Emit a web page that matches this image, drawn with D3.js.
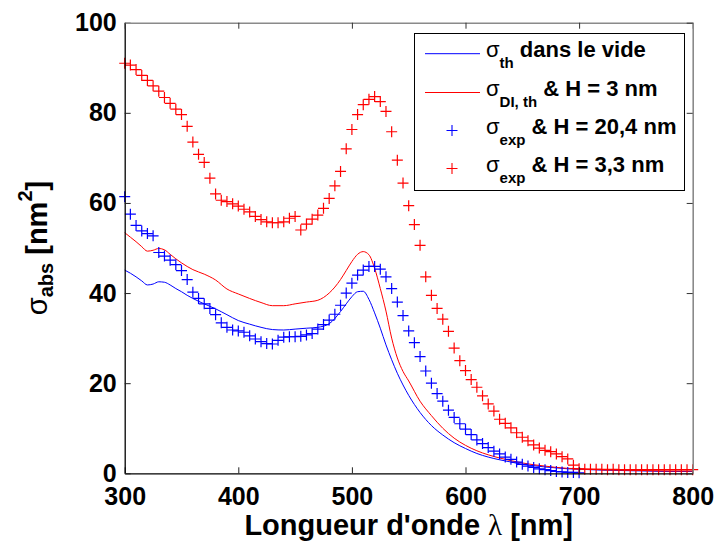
<!DOCTYPE html>
<html>
<head>
<meta charset="utf-8">
<script src="https://cdn.jsdelivr.net/npm/d3@7"></script>
<style>
  html, body { margin: 0; padding: 0; background: #fff; }
  svg { display: block; }
  text { font-family: "Liberation Sans", Arial, sans-serif; }
</style>
</head>
<body>
<svg id="chart" width="720" height="542"></svg>
<script>
// ---------------- data ----------------
const xTicks = [300, 400, 500, 600, 700, 800];
const yTicks = [0, 20, 40, 60, 80, 100];

// theoretical curves (wavelength in nm)
const lineLambda = [300,305,310,315,320,325,330,335,340,345,350,355,360,370,380,390,400,410,420,430,440,450,460,470,480,490,495,500,505,510,515,520,525,530,535,540,545,550,560,570,580,590,600,610,620,630,640,650,660,670,680,690,700,720,740,760,780,800];
const sigmaThVide = [45.1,44.4,43.6,42.7,41.8,42.0,42.5,42.4,41.8,41.0,40.3,39.5,38.8,37.6,36.5,35.2,33.9,33.1,32.4,31.9,31.8,32.0,32.2,32.4,33.2,35.9,37.6,39.2,40.3,40.4,38.6,35.6,32.2,28.5,25.2,22.2,19.6,17.3,13.5,10.6,8.5,6.8,5.5,4.4,3.6,3.0,2.5,2.0,1.7,1.4,1.2,1.0,0.9,0.7,0.6,0.5,0.4,0.4];
const sigmaDIth = [53.4,52.4,51.4,50.3,49.3,49.5,49.9,49.6,48.6,47.6,46.7,45.9,45.2,44.2,42.9,40.9,39.8,38.8,37.9,37.2,37.2,37.6,38.0,38.4,40.0,43.0,45.0,47.0,48.6,49.2,48.5,45.5,41.0,36.0,30.0,25.6,22.6,20.5,16.0,12.8,10.0,7.8,6.2,5.0,4.1,3.4,2.8,2.3,1.9,1.6,1.3,1.1,1.0,0.8,0.7,0.6,0.5,0.5];

// experimental, H = 20,4 nm
const expBlueLambda = [300,305,310,315,320,325,330,335,340,345,350,355,360,365,370,375,380,385,390,395,400,405,410,415,420,425,430,435,440,445,450,455,460,465,470,475,480,485,490,495,500,505,510,515,520,525,530,535,540,545,550,555,560,565,570,575,580,585,590,595,600,605,610,615,620,625,630,635,640,645,650,655,660,665,670,675,680,685,690,695,700];
const sigmaExpBlue = [61.4,57.5,55.0,53.8,53.2,52.7,49.0,48.2,47.3,46.3,45.0,43.0,40.2,38.8,37.6,36.6,35.2,33.4,32.4,31.8,31.6,31.3,30.5,29.8,29.2,28.8,28.7,29.5,30.2,30.3,30.3,30.4,30.7,31.0,32.0,33.0,34.0,35.3,37.3,40.0,42.2,44.0,45.1,45.9,45.9,45.3,43.6,41.0,38.0,35.0,31.6,29.0,25.9,22.7,20.0,17.7,16.0,14.0,12.4,11.0,9.8,8.6,7.4,6.6,5.7,4.9,4.3,3.6,3.1,2.5,2.0,1.6,1.3,1.0,0.8,0.6,0.4,0.3,0.2,0.2,0.1];

// experimental, H = 3,3 nm
const expRedLambda = [300,305,310,315,320,325,330,335,340,345,350,355,360,365,370,375,380,385,390,395,400,405,410,415,420,425,430,435,440,445,450,455,460,465,470,475,480,485,490,495,500,505,510,515,520,525,530,535,540,545,550,555,560,565,570,575,580,585,590,595,600,605,610,615,620,625,630,635,640,645,650,655,660,665,670,675,680,685,690,695,700,705,710,715,720,725,730,735,740,745,750,755,760,765,770,775,780,785,790,795,800];
const sigmaExpRed = [91.0,90.6,89.6,88.3,87.2,86.0,84.8,83.4,82.1,80.8,79.6,77.0,73.5,70.8,69.0,65.5,62.0,60.6,60.3,59.8,59.3,58.6,58.0,57.0,56.3,55.8,55.6,55.6,55.8,56.6,57.0,54.0,55.3,56.4,57.3,58.8,61.0,63.8,67.0,72.0,76.3,79.6,81.8,83.0,83.6,82.5,80.3,75.8,69.5,64.4,59.4,55.2,50.6,43.6,39.5,36.6,34.2,31.5,27.8,25.0,22.8,20.8,19.1,17.2,15.4,13.8,12.0,11.1,10.1,9.0,8.0,7.2,6.3,5.6,5.1,4.8,4.3,3.7,3.2,1.8,1.0,0.9,0.9,0.9,0.9,0.8,0.9,0.8,0.8,0.8,0.8,0.8,0.8,0.8,0.8,0.8,0.8,0.8,0.8,0.8,0.8];

const legendEntries = [
  { main: "σ", sub: "th", rest: " dans le vide", color: "#0000ff", kind: "line" },
  { main: "σ", sub: "DI, th", rest: " & H = 3 nm", color: "#ff0000", kind: "line" },
  { main: "σ", sub: "exp", rest: " & H = 20,4 nm", color: "#0000ff", kind: "plus" },
  { main: "σ", sub: "exp", rest: " & H = 3,3 nm", color: "#ff0000", kind: "plus" }
];

// ---------------- layout ----------------
const W = 720, H = 542;
const margin = { left: 124.7, top: 22.7, right: 27.3, bottom: 68.7 };
const svg = d3.select("#chart");

const x = d3.scaleLinear().domain([300, 800]).range([margin.left, W - margin.right]);
const y = d3.scaleLinear().domain([0, 100]).range([H - margin.bottom, margin.top]);

const FONT = '"Liberation Sans", Arial, sans-serif';

// ---------------- data marks ----------------
const plot = svg.append("g");

const line = d3.line().x(d => x(d[0])).y(d => y(d[1])).curve(d3.curveMonotoneX);

plot.append("path")
  .datum(lineLambda.map((l, i) => [l, sigmaThVide[i]]))
  .attr("d", line).attr("fill", "none").attr("stroke", "#0000ff").attr("stroke-width", 1);

plot.append("path")
  .datum(lineLambda.map((l, i) => [l, sigmaDIth[i]]))
  .attr("d", line).attr("fill", "none").attr("stroke", "#ff0000").attr("stroke-width", 1);

const plusPath = s => `M${-s},0H${s}M0,${-s}V${s}`;

function drawPlus(g, lambdas, values, color) {
  g.selectAll(null)
    .data(lambdas.map((l, i) => [l, values[i]]))
    .enter().append("path")
    .attr("transform", d => `translate(${x(d[0])},${y(d[1])})`)
    .attr("d", plusPath(5.5))
    .attr("fill", "none")
    .attr("stroke", color)
    .attr("stroke-width", 1.2);
}
drawPlus(plot.append("g"), expBlueLambda, sigmaExpBlue, "#0000ff");
drawPlus(plot.append("g"), expRedLambda, sigmaExpRed, "#ff0000");

// ---------------- axes ----------------
const axisB = svg.append("g")
  .attr("transform", `translate(0,${y(0)})`)
  .call(d3.axisBottom(x).tickValues(xTicks).tickSizeInner(-6).tickSizeOuter(0).tickPadding(14).tickFormat(d3.format("d")));
const axisL = svg.append("g")
  .attr("transform", `translate(${x(300)},0)`)
  .call(d3.axisLeft(y).tickValues(yTicks).tickSizeInner(-6).tickSizeOuter(0).tickPadding(8).tickFormat(d3.format("d")));
const axisT = svg.append("g")
  .attr("transform", `translate(0,${y(100)})`)
  .call(d3.axisTop(x).tickValues(xTicks).tickSizeInner(-6).tickSizeOuter(0).tickFormat(""));
const axisR = svg.append("g")
  .attr("transform", `translate(${x(800)},0)`)
  .call(d3.axisRight(y).tickValues(yTicks).tickSizeInner(-6).tickSizeOuter(0).tickFormat(""));

[axisB, axisL].forEach(a => {
  a.select(".domain").attr("stroke", "#000").attr("stroke-width", 1.3);
  a.selectAll(".tick line").attr("stroke", "#222").attr("stroke-width", 1);
  a.selectAll(".tick text")
    .attr("font-family", FONT).attr("font-weight", "bold").attr("font-size", 25).attr("fill", "#000");
});
[axisT, axisR].forEach(a => {
  a.select(".domain").attr("stroke", "#8a8a8a").attr("stroke-width", 1.6);
  a.selectAll(".tick line").attr("stroke", "#333").attr("stroke-width", 1);
});

// ---------------- axis titles ----------------
const xt = svg.append("text")
  .attr("x", (x(300) + x(800)) / 2).attr("y", 535)
  .attr("text-anchor", "middle")
  .attr("font-family", FONT).attr("font-weight", "bold").attr("font-size", 29).attr("fill", "#000");
xt.append("tspan").text("Longueur d'onde ");
xt.append("tspan").attr("font-family", '"Liberation Serif", serif').attr("font-weight", "normal").text("λ");
xt.append("tspan").text(" [nm]");

const yt = svg.append("text")
  .attr("transform", `translate(47,${(y(0) + y(100)) / 2}) rotate(-90)`)
  .attr("text-anchor", "middle")
  .attr("font-family", FONT).attr("font-weight", "bold").attr("font-size", 29).attr("fill", "#000");
yt.append("tspan").attr("font-weight", "normal").text("σ");
yt.append("tspan").attr("font-size", 20).attr("dy", 6).text("abs");
yt.append("tspan").attr("dy", -6).text(" [nm");
yt.append("tspan").attr("font-size", 20).attr("dy", -15).text("2");
yt.append("tspan").attr("dy", 15).text("]");

// ---------------- legend ----------------
const lg = svg.append("g");
lg.append("rect")
  .attr("x", 414.5).attr("y", 33.5).attr("width", 270).attr("height", 157)
  .attr("fill", "#fff").attr("stroke", "#000").attr("stroke-width", 1);

const rowY = [56.7, 95.5, 133.5, 171.5];
legendEntries.forEach((e, i) => {
  const by = rowY[i];
  if (e.kind === "line") {
    lg.append("line").attr("x1", 425).attr("x2", 480).attr("y1", by - 3).attr("y2", by - 3)
      .attr("stroke", e.color).attr("stroke-width", 1);
  } else {
    lg.append("path").attr("transform", `translate(452,${by - 3})`).attr("d", plusPath(5.5))
      .attr("fill", "none").attr("stroke", e.color).attr("stroke-width", 1.1);
  }
  const t = lg.append("text").attr("x", 486).attr("y", by)
    .attr("font-family", FONT).attr("font-weight", "bold").attr("font-size", 22).attr("fill", "#000");
  t.append("tspan").attr("font-weight", "normal").attr("font-size", 22).text(e.main);
  t.append("tspan").attr("font-size", 15).attr("dy", 11).text(e.sub);
  t.append("tspan").attr("dy", -11).text(e.rest);
});
</script>
</body>
</html>
